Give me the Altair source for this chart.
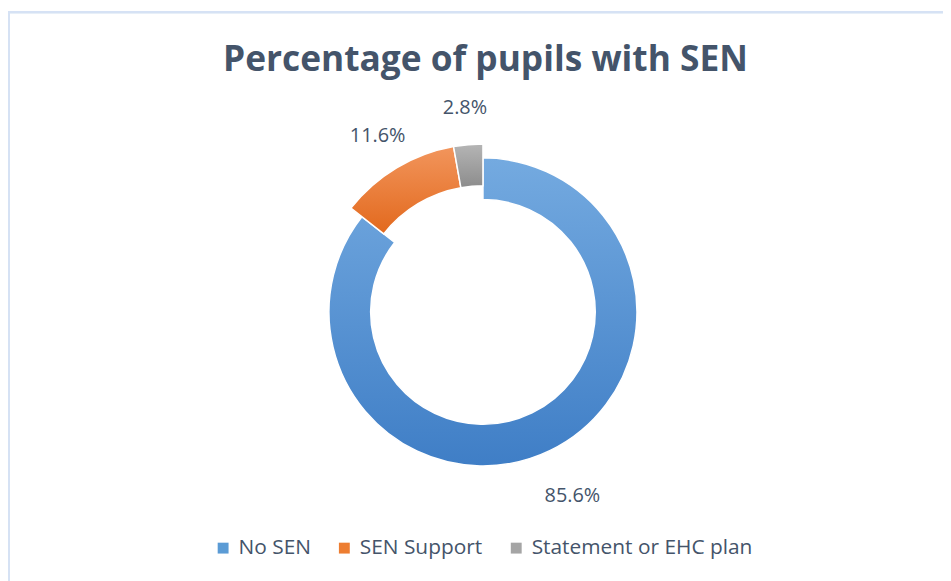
import altair as alt
import pandas as pd

categories = ["No SEN", "SEN Support", "Statement or EHC plan"]
values = [85.6, 11.6, 2.8]
labels = ["85.6%", "11.6%", "2.8%"]

colors = ["#5B9BD5", "#ED7D31", "#A5A5A5"]
gradients = {
    "No SEN": ("#74AAE0", "#3F7EC6"),
    "SEN Support": ("#F2955C", "#E2691D"),
    "Statement or EHC plan": ("#B5B5B5", "#8C8C8C"),
}

df = pd.DataFrame({"Category": categories, "Value": values, "Label": labels,
                   "order": list(range(len(categories)))})

TXT = "#44546A"
CX, CY = 478, 302
R_OUT, R_IN, EXPLODE = 155, 113, 14
W, H = 941, 571

theta_scale = alt.Scale(domain=[0, 100])

base = alt.Chart(df).transform_window(
    end="sum(Value)", sort=[alt.SortField("order")], frame=[None, 0]
).transform_calculate(
    start="datum.end - datum.Value", mid="datum.end - datum.Value/2"
)

frame_top = alt.Chart(df).mark_rule(color="#D6E2F4", strokeWidth=2).encode(
    x=alt.value(0), x2=alt.value(W + 10), y=alt.value(0.5))
frame_left = alt.Chart(df).mark_rule(color="#D6E2F4", strokeWidth=2).encode(
    x=alt.value(1), y=alt.value(0), y2=alt.value(H + 10))

legend_layer = base.mark_arc(outerRadius=0, innerRadius=0).encode(
    x=alt.value(CX), y=alt.value(CY),
    theta=alt.Theta("start:Q", scale=theta_scale),
    theta2="end:Q",
    color=alt.Color(
        "Category:N",
        scale=alt.Scale(domain=categories, range=colors),
        legend=alt.Legend(
            title=None, orient="none", direction="horizontal",
            legendX=206, legendY=529, symbolType="square", symbolSize=120,
            symbolStrokeWidth=0, labelFontSize=21, labelColor=TXT,
            labelFont="Open Sans", columnPadding=23, labelOffset=5,
            labelLimit=400,
        ),
    ),
)

layers = [frame_top, frame_left, legend_layer]
for cat in categories:
    top, bottom = gradients[cat]
    grad = alt.Gradient(
        gradient="linear",
        stops=[alt.GradientStop(color=top, offset=0), alt.GradientStop(color=bottom, offset=1)],
        x1=0, x2=0, y1=0, y2=1,
    )
    extra = 0 if cat == "No SEN" else EXPLODE
    layers.append(
        base.transform_filter(alt.datum.Category == cat)
        .mark_arc(fill=grad, stroke="white", strokeWidth=1.5,
                  outerRadius=R_OUT + extra, innerRadius=R_IN + extra)
        .encode(
            x=alt.value(CX), y=alt.value(CY),
            theta=alt.Theta("start:Q", scale=theta_scale),
            theta2="end:Q",
        )
    )

text_layer = base.mark_text(font="Open Sans", fontSize=20, color=TXT).encode(
    x=alt.value(CX), y=alt.value(CY),
    theta=alt.Theta("mid:Q", scale=theta_scale),
    radius=alt.value(206),
    text="Label:N",
)
layers.append(text_layer)

chart = alt.layer(*layers).properties(
    width=W, height=H,
    padding={"left": 0, "top": 2, "right": 0, "bottom": 0},
    autosize=alt.AutoSizeParams(type="none"),
    title=alt.TitleParams(
        "Percentage of pupils with SEN", font="Open Sans", fontSize=35.5,
        fontWeight="bold", color=TXT, anchor="middle", baseline="alphabetic",
        offset=-96, dx=10,
    ),
).configure_view(stroke=None)

chart.save("out.html", embed_options={"renderer": "svg", "actions": False})
